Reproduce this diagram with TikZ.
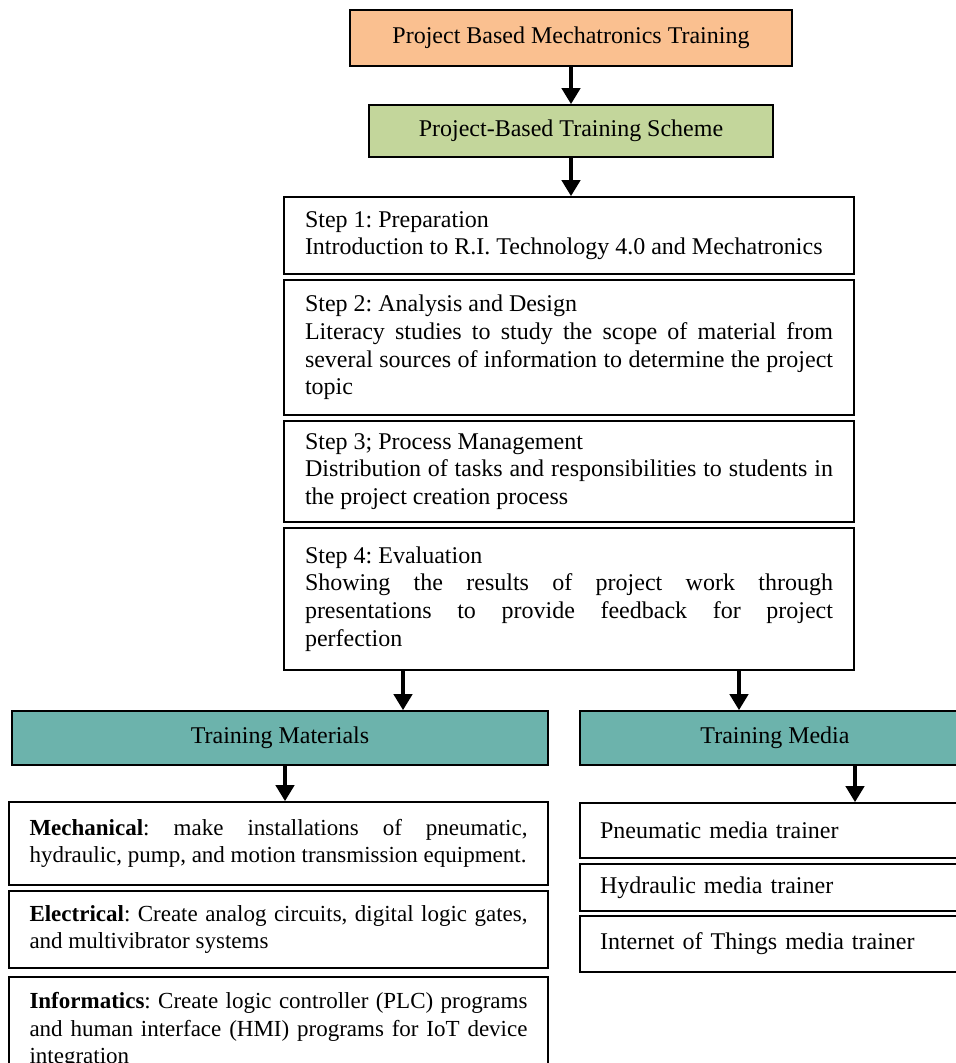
\documentclass[tikz,border=0pt]{standalone}
\usepackage{fontspec}
\setmainfont{Liberation Serif}
\usetikzlibrary{arrows.meta}
\definecolor{topfill}{RGB}{250,192,144}
\definecolor{schemefill}{RGB}{195,214,155}
\definecolor{trainfill}{RGB}{108,179,172}
\frenchspacing
\hyphenpenalty=10000
\exhyphenpenalty=10000
\tolerance=9999

\begin{document}
\begin{tikzpicture}[x=0.5pt,y=0.5pt,yscale=-1,xscale=1,
  box/.style={draw, line width=0.8pt, font=\fontsize{12}{13.8}\selectfont, inner sep=0pt},
  headbox/.style={box, align=center},
  stepbox/.style={box, text width=264pt, inner xsep=10.5pt, align=justify},
  itembox/.style={box, font=\fontsize{11.5}{13.8}\selectfont, text width=249pt, inner xsep=10.25pt, align=justify},
  mediabox/.style={box, text width=175pt, inner xsep=10pt, align=left},
  arr/.style={line width=2pt, -{Triangle[width=9pt,length=8pt]}}]
%set diagram size: 956 x 1063
\clip (0,0) rectangle (956,1063);

%Shape: Rectangle [top]
\node[headbox, fill=topfill, minimum width=221pt, minimum height=28pt] (top) at (571,38) {Project Based Mechatronics Training};
%Shape: Rectangle [scheme]
\node[headbox, fill=schemefill, minimum width=202pt, minimum height=26pt] (scheme) at (571,131) {Project-Based Training Scheme};

%Shape: Rectangle [steps]
\node[stepbox, minimum height=38.5pt] (s1) at (569,235.5) {Step 1: Preparation\newline Introduction to R.I. Technology 4.0 and Mechatronics};
\node[stepbox, minimum height=67.5pt] (s2) at (569,347.5) {Step 2: Analysis and Design\newline Literacy studies to study the scope of material from\linebreak several sources of information to determine the project\linebreak topic};
\node[stepbox, minimum height=50.5pt] (s3) at (569,471.5) {Step 3; Process Management\newline Distribution of tasks and responsibilities to students in\linebreak the project creation process};
\node[stepbox, minimum height=71pt] (s4) at (569,599) {Step 4: Evaluation\newline Showing the results of project work through\linebreak presentations to provide feedback for project\linebreak perfection};

%Shape: Rectangle [training]
\node[headbox, fill=trainfill, minimum width=268pt, minimum height=27pt] (mat) at (280,738) {Training Materials};
\node[headbox, fill=trainfill, minimum width=195pt, minimum height=27pt] (med) at (775,738) {Training Media};

%Shape: Rectangle [materials]
\node[itembox, minimum height=41.5pt] (mech) at (278.5,843.5) {\textbf{Mechanical}: make installations of pneumatic,\linebreak hydraulic, pump, and motion transmission equipment.};
\node[itembox, minimum height=38.5pt] (elec) at (278.5,929.5) {\textbf{Electrical}: Create analog circuits, digital logic gates,\linebreak and multivibrator systems};
\node[itembox, minimum height=53.5pt] (info) at (278.5,1030.5) {\textbf{Informatics}: Create logic controller (PLC) programs\linebreak and human interface (HMI) programs for IoT device\linebreak integration};

%Shape: Rectangle [media]
\node[mediabox, minimum height=27.5pt] (pn) at (775,830.5) {Pneumatic media trainer};
\node[mediabox, minimum height=23.5pt] (hy) at (775,887.5) {Hydraulic media trainer};
\node[mediabox, minimum height=28pt] (iot) at (775,944) {Internet of Things media trainer};

%Arrows
\coordinate (aL) at (403,0);
\coordinate (aR) at (739,0);
\coordinate (mL) at (285,0);
\coordinate (mR) at (855,0);
\draw[arr] (top) -- (scheme);
\draw[arr] (scheme) -- (scheme |- s1.north);
\draw[arr] (s4.south -| aL) -- (mat.north -| aL);
\draw[arr] (s4.south -| aR) -- (med.north -| aR);
\draw[arr] (mat.south -| mL) -- (mech.north -| mL);
\draw[arr] (med.south -| mR) -- (pn.north -| mR);

\end{tikzpicture}
\end{document}
